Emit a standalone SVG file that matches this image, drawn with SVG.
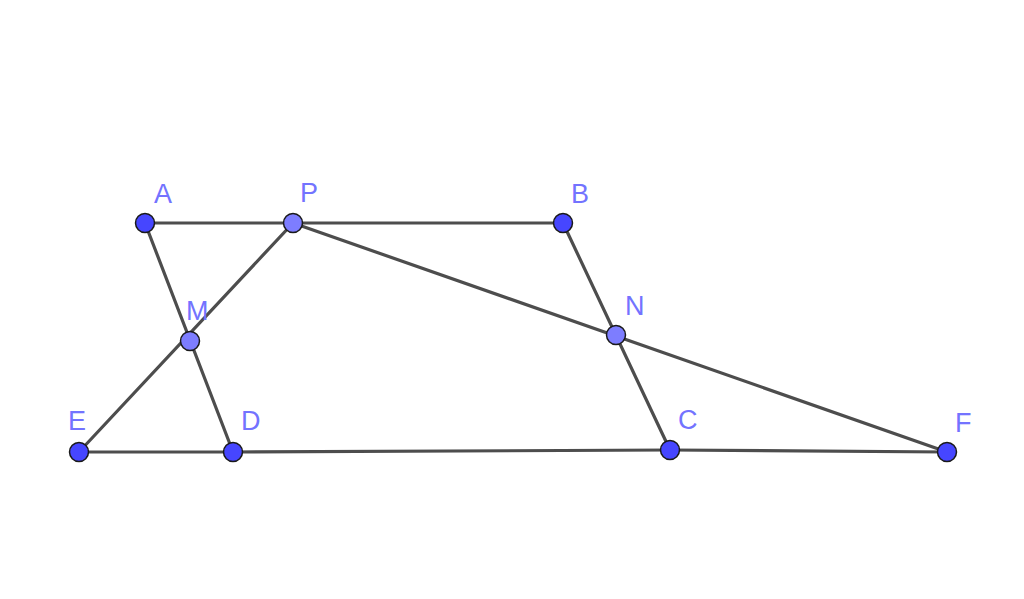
<svg xmlns="http://www.w3.org/2000/svg" width="1024" height="599" viewBox="0 0 1024 599">
<style>
.seg{stroke:#4d4d4d;stroke-width:3.2;stroke-linecap:round;fill:none}
.pt{fill:#4646ff;stroke:#1a1a1a;stroke-width:1.5}
.pt2{fill:#7d7dff;stroke:#1a1a1a;stroke-width:1.5}
.lbl{font-family:"Liberation Sans",Arial,sans-serif;font-size:27px;fill:#7373ff}
</style>
<rect width="1024" height="599" fill="#ffffff"/>
<g id="connectors">
<line class="seg" x1="145" y1="223" x2="563" y2="223"/>
<line class="seg" x1="145" y1="223" x2="233" y2="452"/>
<line class="seg" x1="293" y1="223" x2="79" y2="452"/>
<line class="seg" x1="293" y1="223" x2="947" y2="452"/>
<line class="seg" x1="563" y1="223" x2="670" y2="450"/>
<line class="seg" x1="79" y1="452" x2="233" y2="452"/>
<line class="seg" x1="233" y1="452" x2="670" y2="450"/>
<line class="seg" x1="670" y1="450" x2="947" y2="452"/>
</g>
<g id="A"><circle class="pt" cx="145" cy="223" r="9.5"/><text class="lbl" x="154" y="203">A</text></g>
<g id="P"><circle class="pt2" cx="293" cy="223" r="9.5"/><text class="lbl" x="300" y="202">P</text></g>
<g id="B"><circle class="pt" cx="563" cy="223" r="9.5"/><text class="lbl" x="571" y="203">B</text></g>
<g id="M"><circle class="pt2" cx="190" cy="341" r="9.5"/><text class="lbl" x="186" y="320">M</text></g>
<g id="N"><circle class="pt2" cx="616" cy="335" r="9.5"/><text class="lbl" x="625" y="315">N</text></g>
<g id="E"><circle class="pt" cx="79" cy="452" r="9.5"/><text class="lbl" x="68" y="430">E</text></g>
<g id="D"><circle class="pt" cx="233" cy="452" r="9.5"/><text class="lbl" x="241" y="430">D</text></g>
<g id="C"><circle class="pt" cx="670" cy="450" r="9.5"/><text class="lbl" x="678" y="429">C</text></g>
<g id="F"><circle class="pt" cx="947" cy="452" r="9.5"/><text class="lbl" x="955" y="432">F</text></g>
</svg>
